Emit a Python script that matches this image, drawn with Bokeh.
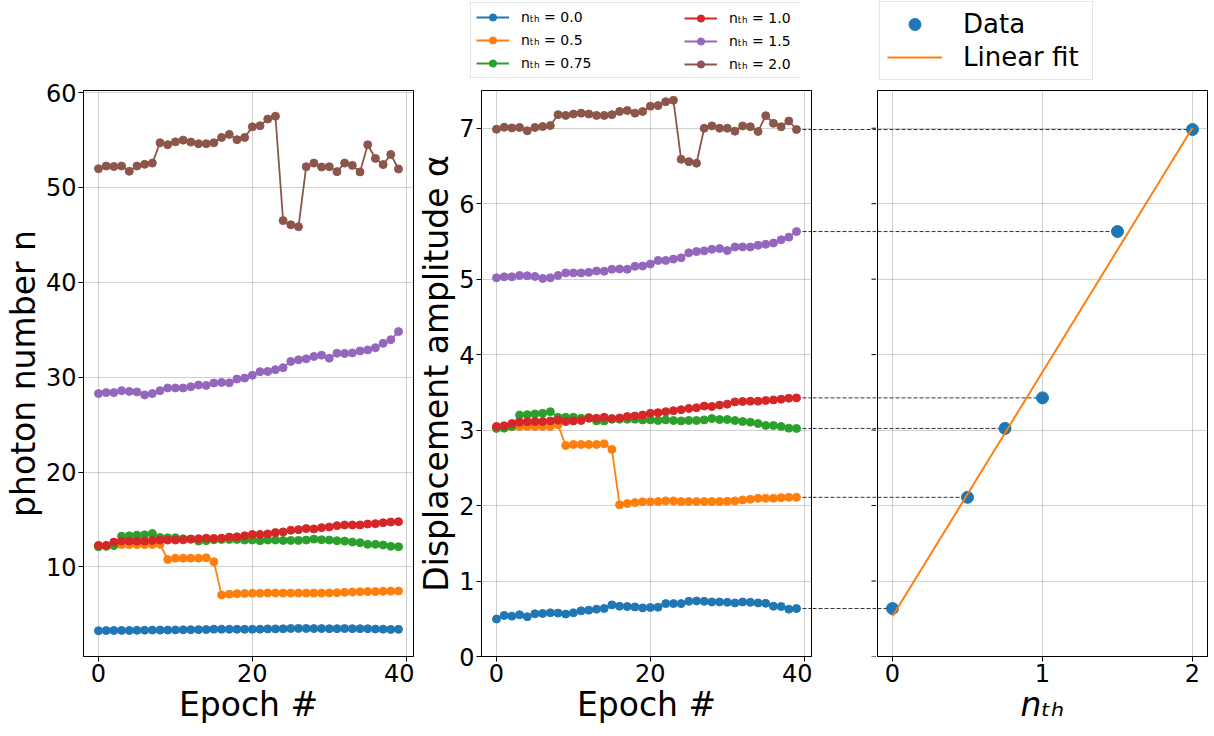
import numpy as np
from bokeh.plotting import figure
from bokeh.models import Range1d, FixedTicker, Legend, LegendItem, Spacer
from bokeh.layouts import row, column
from bokeh.embed import file_html
from bokeh.resources import INLINE

# ---------------- data ----------------
epochs = list(range(40))
n_th_values = [0.0, 0.5, 0.75, 1.0, 1.5, 2.0]
series_labels = ["nₜₕ = 0.0", "nₜₕ = 0.5", "nₜₕ = 0.75", "nₜₕ = 1.0", "nₜₕ = 1.5", "nₜₕ = 2.0"]
colors = ["#1f77b4", "#ff7f0e", "#2ca02c", "#d62728", "#9467bd", "#8c564b"]

photon_n00 = [3.27, 3.29, 3.30, 3.31, 3.30, 3.32, 3.33, 3.34, 3.34, 3.34, 3.36, 3.37, 3.38, 3.39, 3.40,
              3.44, 3.43, 3.43, 3.43, 3.42, 3.43, 3.44, 3.47, 3.47, 3.48, 3.51, 3.52, 3.51, 3.50, 3.50,
              3.49, 3.49, 3.50, 3.49, 3.49, 3.48, 3.45, 3.44, 3.41, 3.42]
photon_n05 = [12.17, 12.20, 12.27, 12.35, 12.35, 12.35, 12.35, 12.35, 12.38, 10.78, 10.92, 10.92, 10.92,
              10.92, 10.96, 10.54, 7.05, 7.12, 7.18, 7.20, 7.22, 7.22, 7.25, 7.25, 7.24, 7.24, 7.24, 7.24,
              7.24, 7.24, 7.26, 7.28, 7.32, 7.35, 7.38, 7.40, 7.40, 7.43, 7.45, 7.46]
photon_n075 = [12.13, 12.17, 12.27, 13.24, 13.28, 13.35, 13.38, 13.52, 13.10, 13.07, 13.07, 12.97, 12.93,
               12.72, 12.76, 12.86, 12.90, 12.90, 12.90, 12.83, 12.83, 12.76, 12.83, 12.83, 12.79, 12.79,
               12.79, 12.83, 12.93, 12.86, 12.83, 12.76, 12.72, 12.62, 12.55, 12.38, 12.38, 12.31, 12.17, 12.13]
photon_n10 = [12.27, 12.27, 12.62, 12.72, 12.72, 12.72, 12.72, 12.79, 12.83, 12.83, 12.83, 12.86, 12.93,
              12.97, 13.03, 13.00, 13.03, 13.14, 13.17, 13.28, 13.42, 13.42, 13.48, 13.62, 13.69, 13.87,
              13.93, 14.04, 14.00, 14.14, 14.21, 14.35, 14.42, 14.42, 14.42, 14.52, 14.56, 14.66, 14.73, 14.77]
photon_n15 = [28.27, 28.37, 28.37, 28.58, 28.50, 28.44, 28.13, 28.27, 28.58, 28.86, 28.86, 28.86, 28.99,
              29.17, 29.13, 29.38, 29.44, 29.40, 29.80, 29.90, 30.20, 30.58, 30.60, 30.79, 31.00, 31.66,
              31.83, 31.93, 32.18, 32.32, 32.00, 32.52, 32.50, 32.55, 32.76, 32.87, 33.10, 33.56, 33.95, 34.80]
photon_n20 = [51.97, 52.25, 52.20, 52.25, 51.70, 52.25, 52.43, 52.56, 54.70, 54.50, 54.80, 54.98, 54.78,
              54.60, 54.60, 54.70, 55.26, 55.58, 55.03, 55.26, 56.38, 56.50, 57.20, 57.50, 46.50, 46.06,
              45.85, 52.18, 52.56, 52.15, 52.18, 51.66, 52.56, 52.32, 51.63, 54.50, 53.05, 52.40, 53.47, 51.94]

alpha_00 = [0.497, 0.544, 0.535, 0.553, 0.527, 0.566, 0.570, 0.579, 0.575, 0.562, 0.579, 0.605, 0.614,
            0.627, 0.636, 0.684, 0.666, 0.662, 0.657, 0.644, 0.649, 0.653, 0.701, 0.701, 0.701, 0.731,
            0.736, 0.731, 0.723, 0.723, 0.718, 0.710, 0.723, 0.718, 0.710, 0.705, 0.666, 0.662, 0.627, 0.636]
alpha_05 = [3.030, 3.030, 3.044, 3.048, 3.048, 3.048, 3.048, 3.048, 3.070, 2.796, 2.809, 2.809, 2.809,
            2.809, 2.818, 2.744, 2.010, 2.027, 2.040, 2.050, 2.050, 2.053, 2.062, 2.062, 2.053, 2.053,
            2.053, 2.053, 2.053, 2.053, 2.057, 2.062, 2.075, 2.083, 2.096, 2.096, 2.096, 2.105, 2.109, 2.109]
alpha_075 = [3.022, 3.026, 3.048, 3.200, 3.205, 3.214, 3.222, 3.244, 3.170, 3.170, 3.170, 3.157, 3.166,
             3.122, 3.122, 3.144, 3.144, 3.144, 3.144, 3.135, 3.135, 3.127, 3.135, 3.127, 3.122, 3.127,
             3.127, 3.135, 3.153, 3.140, 3.140, 3.127, 3.114, 3.105, 3.087, 3.061, 3.061, 3.048, 3.026, 3.022]
alpha_10 = [3.048, 3.057, 3.087, 3.105, 3.109, 3.114, 3.114, 3.122, 3.131, 3.114, 3.122, 3.127, 3.157,
            3.157, 3.170, 3.153, 3.161, 3.179, 3.187, 3.200, 3.222, 3.231, 3.244, 3.257, 3.270, 3.287,
            3.296, 3.318, 3.313, 3.331, 3.344, 3.374, 3.379, 3.383, 3.383, 3.392, 3.400, 3.409, 3.422, 3.427]
alpha_15 = [5.018, 5.031, 5.031, 5.049, 5.045, 5.036, 5.010, 5.018, 5.049, 5.083, 5.083, 5.083, 5.090,
            5.109, 5.105, 5.131, 5.135, 5.131, 5.170, 5.174, 5.200, 5.248, 5.248, 5.266, 5.283, 5.349,
            5.366, 5.375, 5.396, 5.405, 5.379, 5.427, 5.427, 5.427, 5.449, 5.462, 5.479, 5.522, 5.557, 5.631]
alpha_20 = [6.987, 7.013, 7.004, 7.010, 6.966, 7.010, 7.022, 7.035, 7.180, 7.170, 7.188, 7.200, 7.188,
            7.170, 7.170, 7.180, 7.222, 7.235, 7.200, 7.222, 7.292, 7.300, 7.352, 7.370, 6.588, 6.557,
            6.536, 7.000, 7.031, 7.000, 7.000, 6.961, 7.030, 7.020, 6.957, 7.166, 7.066, 7.020, 7.096, 6.983]

photon_series = [photon_n00, photon_n05, photon_n075, photon_n10, photon_n15, photon_n20]
alpha_series = [alpha_00, alpha_05, alpha_075, alpha_10, alpha_15, alpha_20]

epoch_ticks = [0, 20, 40]
photon_ticks = [10, 20, 30, 40, 50, 60]
alpha_ticks = [0, 1, 2, 3, 4, 5, 6, 7]
nth_ticks = [0, 1, 2]
alpha_limits = (0.0, 7.5)

# ---------------- layout constants ----------------
FONT = "DejaVu Sans"
FRAME_W, FRAME_H = 330, 566
TOP, BOTTOM = 10, 72
LEG_H = 80
P1_L, P1_R = 76, 1
P2_L, P2_R = 63, 1
GAP_W = 64
P3_L, P3_R = 1, 2
TICK_LEN = 5
CONN_COLOR, CONN_DASH = "#333333", "4 2"


def pad_range(lo, hi, frac=0.05):
    span = hi - lo
    return lo - frac * span, hi + frac * span


def style(p):
    p.outline_line_color = "black"
    p.outline_line_width = 1
    p.background_fill_color = "white"
    p.border_fill_color = "white"
    for ax in p.axis:
        ax.axis_line_color = "black"
        ax.major_tick_line_color = "black"
        ax.major_tick_out = TICK_LEN
        ax.major_tick_in = 0
        ax.minor_tick_line_color = None
        ax.major_label_text_font = FONT
        ax.major_label_text_font_size = "24px"
        ax.major_label_text_color = "black"
        ax.major_label_standoff = 2
        ax.axis_label_text_font = FONT
        ax.axis_label_text_font_size = "33px"
        ax.axis_label_text_font_style = "normal"
        ax.axis_label_text_color = "black"
        ax.axis_label_standoff = 0
    p.grid.grid_line_color = "#b0b0b0"
    p.grid.grid_line_alpha = 0.6
    p.grid.grid_line_width = 1


def blank_figure(x_range, y_range, **kw):
    f = figure(x_range=x_range, y_range=y_range, x_axis_location=None, y_axis_location=None,
               output_backend="svg", toolbar_location=None, **kw)
    f.outline_line_color = None
    f.background_fill_color = "white"
    f.border_fill_color = "white"
    f.grid.visible = False
    return f


x_lo, x_hi = pad_range(min(epochs), max(epochs))

# ---------------- left panel ----------------
all_n = [v for s in photon_series for v in s]
n_lo, n_hi = pad_range(min(all_n), max(all_n))
p1 = figure(frame_width=FRAME_W, frame_height=FRAME_H, min_border_left=P1_L, min_border_right=P1_R,
            min_border_top=TOP, min_border_bottom=BOTTOM,
            x_range=Range1d(x_lo, x_hi), y_range=Range1d(n_lo, n_hi),
            output_backend="svg", toolbar_location=None)
for s, c in zip(photon_series, colors):
    p1.line(epochs, s, color=c, line_width=1.8)
    p1.scatter(epochs, s, marker="circle", size=8, fill_color=c, line_color=c)
p1.xaxis.ticker = FixedTicker(ticks=epoch_ticks)
p1.yaxis.ticker = FixedTicker(ticks=photon_ticks)
p1.xaxis.axis_label = "Epoch #"
p1.yaxis.axis_label = "photon number n"
style(p1)

# ---------------- middle panel ----------------
p2 = figure(frame_width=FRAME_W, frame_height=FRAME_H, min_border_left=P2_L, min_border_right=P2_R,
            min_border_top=TOP, min_border_bottom=BOTTOM,
            x_range=Range1d(x_lo, x_hi), y_range=Range1d(*alpha_limits),
            output_backend="svg", toolbar_location=None)
final_alpha = [s[-1] for s in alpha_series]
n_conn = len(final_alpha)
p2.segment(x0=[epochs[-1]] * n_conn, y0=final_alpha, x1=[x_hi] * n_conn, y1=final_alpha,
           line_color=CONN_COLOR, line_width=1, line_dash=CONN_DASH)
for s, c in zip(alpha_series, colors):
    p2.line(epochs, s, color=c, line_width=1.8)
    p2.scatter(epochs, s, marker="circle", size=8, fill_color=c, line_color=c)
p2.xaxis.ticker = FixedTicker(ticks=epoch_ticks)
p2.yaxis.ticker = FixedTicker(ticks=alpha_ticks)
p2.xaxis.axis_label = "Epoch #"
p2.yaxis.axis_label = "Displacement amplitude α"
style(p2)

# ---------------- gap between middle and right panels ----------------
pg = blank_figure(Range1d(0, 1), p2.y_range, frame_width=GAP_W, frame_height=FRAME_H,
                  min_border_left=0, min_border_right=0, min_border_top=TOP, min_border_bottom=BOTTOM)
pg.segment(x0=[0] * n_conn, y0=final_alpha, x1=[1] * n_conn, y1=final_alpha,
           line_color=CONN_COLOR, line_width=1, line_dash=CONN_DASH)
# outward tick marks of the right panel's y axis
pg.segment(x0=[1 - TICK_LEN / GAP_W] * len(alpha_ticks), y0=alpha_ticks,
           x1=[1] * len(alpha_ticks), y1=alpha_ticks, line_color="black", line_width=1)

# ---------------- right panel ----------------
nth_lo, nth_hi = pad_range(min(n_th_values), max(n_th_values))
p3 = figure(frame_width=FRAME_W, frame_height=FRAME_H, min_border_left=P3_L, min_border_right=P3_R,
            min_border_top=TOP, min_border_bottom=BOTTOM,
            x_range=Range1d(nth_lo, nth_hi), y_range=p2.y_range,
            output_backend="svg", toolbar_location=None)
p3.segment(x0=[nth_lo] * n_conn, y0=final_alpha, x1=n_th_values, y1=final_alpha,
           line_color=CONN_COLOR, line_width=1, line_dash=CONN_DASH)
p3.scatter(n_th_values, final_alpha, marker="circle", size=12, fill_color=colors[0],
           line_color=colors[0])
slope, intercept = np.polyfit(n_th_values, final_alpha, 1)
fit_x = [min(n_th_values), max(n_th_values)]
fit_y = [slope * x + intercept for x in fit_x]
p3.line(fit_x, fit_y, color=colors[1], line_width=2)
p3.xaxis.ticker = FixedTicker(ticks=nth_ticks)
p3.yaxis.ticker = FixedTicker(ticks=alpha_ticks)
p3.xaxis.axis_label = "nₜₕ"
style(p3)
p3.ygrid.ticker = FixedTicker(ticks=alpha_ticks)
p3.yaxis.visible = False
p3.xaxis.axis_label_text_font_style = "italic"

# ---------------- legends (own strips above the panels) ----------------
# legend swatches come from copies of the series drawn outside the strip's visible ranges
strip_kw = dict(width=FRAME_W, height=LEG_H, min_border_left=0, min_border_right=0,
                min_border_top=0, min_border_bottom=0)
lg2 = blank_figure(Range1d(-2, -1), Range1d(-2, -1), **strip_kw)
items = []
for s, c, lab in zip(alpha_series, colors, series_labels):
    rl = lg2.line(epochs, s, color=c, line_width=1.8)
    rs = lg2.scatter(epochs, s, marker="circle", size=8, fill_color=c, line_color=c)
    items.append(LegendItem(label=lab, renderers=[rl, rs]))
leg_common = dict(label_text_font=FONT, label_text_font_size="14px", label_text_color="black",
                  glyph_width=33, glyph_height=18, label_height=18, label_standoff=12,
                  spacing=5, padding=5, margin=0, border_line_color="#cccccc")
legA = Legend(items=items[:3], location=(0, 2), label_width=275, background_fill_alpha=1.0,
              **leg_common)
legB = Legend(items=items[3:], location=(209, 2), border_line_alpha=0, background_fill_alpha=0,
              **leg_common)
lg2.add_layout(legA)
lg2.add_layout(legB)

lg3 = blank_figure(Range1d(-2, -1), Range1d(-2, -1), **strip_kw)
r_data_proxy = lg3.scatter(n_th_values, final_alpha, marker="circle", size=12,
                           fill_color=colors[0], line_color=colors[0])
r_fit_proxy = lg3.line(fit_x, fit_y, color=colors[1], line_width=2)
legR = Legend(items=[LegendItem(label="Data", renderers=[r_data_proxy]),
                     LegendItem(label="Linear fit", renderers=[r_fit_proxy])],
              location=(13, 0), margin=0, label_text_font=FONT, label_text_font_size="26px",
              label_text_color="black", glyph_width=55, glyph_height=30, label_height=30,
              label_standoff=21, spacing=3, padding=7, label_width=122,
              border_line_color="#cccccc", background_fill_alpha=1.0)
lg3.add_layout(legR)

p1_width = P1_L + FRAME_W + P1_R
top_row = row(Spacer(width=p1_width + P2_L, height=LEG_H), lg2,
              Spacer(width=P2_R + GAP_W + P3_L, height=LEG_H), lg3, spacing=0)
bottom_row = row(p1, p2, pg, p3, spacing=0)
layout = column(top_row, bottom_row, spacing=0)
open("out.html", "w").write(file_html(layout, INLINE))
